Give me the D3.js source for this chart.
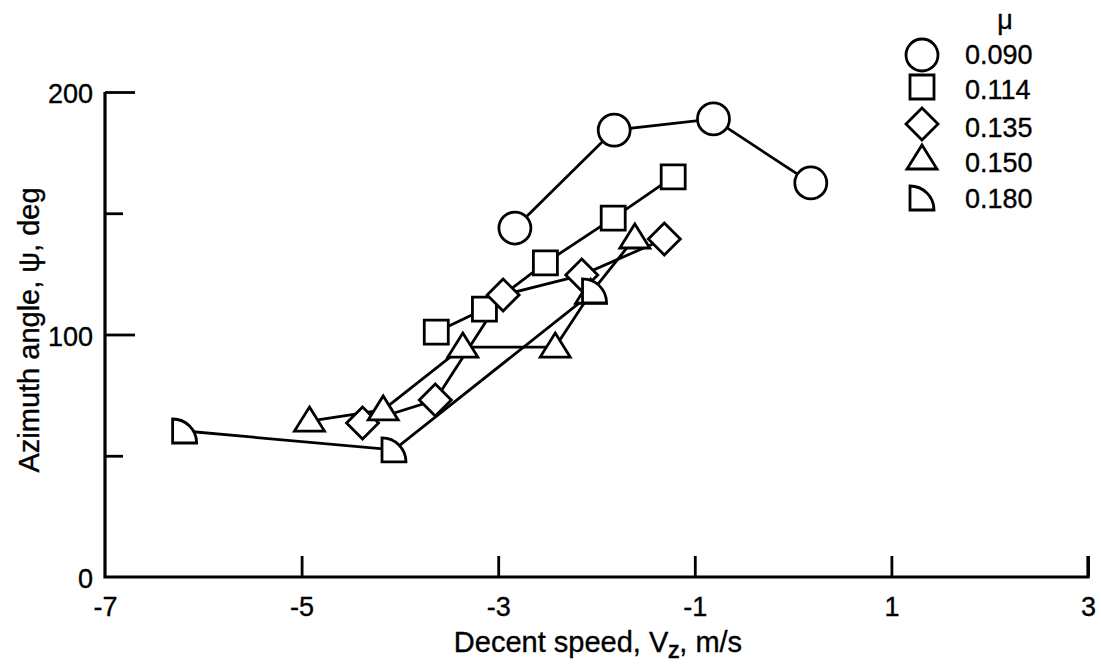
<!DOCTYPE html>
<html>
<head>
<meta charset="utf-8">
<script src="https://cdn.jsdelivr.net/npm/d3@7/dist/d3.min.js"></script>
<style>
  html, body { margin: 0; padding: 0; background: #fff; }
  svg text { font-family: "Liberation Sans", Arial, Helvetica, sans-serif; fill: #000; stroke: #000; stroke-width: 0.35px; }
</style>
</head>
<body>
<svg id="chart" width="1101" height="669"></svg>
<script>
// ---- data ----
const muLabels = ["0.090", "0.114", "0.135", "0.150", "0.180"];
const shapes   = ["circle", "square", "diamond", "triangle", "quarter"];

const vz090  = [-2.83, -1.82, -0.81, 0.18];
const psi090 = [143.9, 184.3, 188.9, 162.5];

const vz114  = [-3.63, -3.14, -2.52, -1.83, -1.22];
const psi114 = [101.0, 110.5, 129.5, 148.0, 165.0];

const vz135  = [-4.38, -3.64, -2.95, -2.15, -1.31];
const psi135 = [63.5, 73.0, 116.3, 124.5, 139.4];

const vz150  = [-4.92, -4.17, -3.36, -2.42, -2.06, -1.61];
const psi150 = [64.3, 68.9, 94.8, 94.8, 117.0, 139.8];

const vz180  = [-6.19, -4.06, -2.02];
const psi180 = [60.2, 52.4, 118.0];

const xTicks = [-7, -5, -3, -1, 1, 3];
const yMajorTicks = [0, 100, 200];
const yMinorTicks = [50, 150];

const xTitle = "Decent speed, V";
const xTitleSub = "Z";
const xTitleEnd = ", m/s";
const yTitle = "Azimuth angle, \u03C8, deg";

// ---- build series ----
const seriesX = [vz090, vz114, vz135, vz150, vz180];
const seriesY = [psi090, psi114, psi135, psi150, psi180];
const series = seriesX.map((xs, i) => ({
  label: muLabels[i], shape: shapes[i],
  pts: xs.map((v, j) => ({ x: v, y: seriesY[i][j] }))
}));

const svg = d3.select("#chart");
const x = d3.scaleLinear().domain([-7, 3]).range([105, 1088]);
const y = d3.scaleLinear().domain([0, 200]).range([577, 92]);

const SW = 2.8;
const FONT = "Liberation Sans, Arial, sans-serif";

function shapePath(s) {
  switch (s) {
    case "circle":   return "M-16,0A16,16 0 1,0 16,0A16,16 0 1,0 -16,0Z";
    case "square":   return "M-12,-12H12V12H-12Z";
    case "diamond":  return "M0,-16L16,0L0,16L-16,0Z";
    case "triangle": return "M0,-14L15,10H-15Z";
    case "quarter":  return "M-12,12V-12A24,24 0 0,1 12,12Z";
  }
}

// axes
const gx = svg.append("g").attr("transform", `translate(0,${y(0)})`)
  .call(d3.axisBottom(x).tickValues(xTicks).tickSize(-21).tickPadding(20)
        .tickFormat(d => d < 0 ? "-" + Math.abs(d) : String(d)));
gx.select(".domain").remove();
gx.selectAll(".tick line").attr("stroke", "#000").attr("stroke-width", SW)
  .filter(d => d === -7).remove();
gx.selectAll(".tick text").attr("font-size", 27).attr("font-family", FONT);

const gy = svg.append("g").attr("transform", `translate(${x(-7)},0)`)
  .call(d3.axisLeft(y).tickValues(yMajorTicks).tickSize(-30).tickPadding(12));
gy.select(".domain").remove();
gy.selectAll(".tick line").attr("stroke", "#000").attr("stroke-width", SW)
  .filter(d => d === 0).remove();
gy.selectAll(".tick text").attr("font-size", 27).attr("font-family", FONT)
  .attr("dy", "0.4em");

const gy2 = svg.append("g").attr("transform", `translate(${x(-7)},0)`)
  .call(d3.axisLeft(y).tickValues(yMinorTicks).tickSize(-18).tickFormat(""));
gy2.select(".domain").remove();
gy2.selectAll(".tick line").attr("stroke", "#000").attr("stroke-width", SW);

// axis lines
svg.append("path")
  .attr("d", `M${x(-7)},${y(200)}V${y(0)}H${x(3)}V${y(0) - 21}`)
  .attr("fill", "none").attr("stroke", "#000").attr("stroke-width", SW + 0.4)
  .attr("stroke-linejoin", "miter");

// titles
const xt = svg.append("text").attr("x", 598).attr("y", 652)
  .attr("text-anchor", "middle").attr("font-size", 29);
xt.append("tspan").text(xTitle);
xt.append("tspan").text(xTitleSub).attr("font-size", 18).attr("font-weight", "bold").attr("dy", 6);
xt.append("tspan").text(xTitleEnd).attr("dy", -6);

svg.append("text")
  .attr("transform", `translate(39,330) rotate(-90)`)
  .attr("text-anchor", "middle").attr("font-size", 29)
  .text(yTitle);

// lines
const line = d3.line().x(d => x(d.x)).y(d => y(d.y));
svg.append("g").selectAll("path").data(series).join("path")
  .attr("d", d => line(d.pts))
  .attr("fill", "none").attr("stroke", "#000").attr("stroke-width", SW);

// markers
series.forEach(s => {
  svg.append("g").selectAll("path").data(s.pts).join("path")
    .attr("d", shapePath(s.shape))
    .attr("transform", d => `translate(${x(d.x)},${y(d.y)})`)
    .attr("fill", "#fff").attr("stroke", "#000").attr("stroke-width", SW);
});

// legend
const lg = svg.append("g");
lg.append("text").attr("x", 1005).attr("y", 29).attr("text-anchor", "middle")
  .attr("font-size", 27).text("\u03BC");
const legY = [55, 87, 124, 159, 198];
const legTextY = [64, 99, 137, 172, 208];
series.forEach((s, i) => {
  lg.append("path").attr("d", shapePath(s.shape))
    .attr("transform", `translate(922,${legY[i]})`)
    .attr("fill", "#fff").attr("stroke", "#000").attr("stroke-width", SW);
  lg.append("text").attr("x", 965).attr("y", legTextY[i]).attr("font-size", 27)
    .text(s.label);
});
</script>
</body>
</html>
